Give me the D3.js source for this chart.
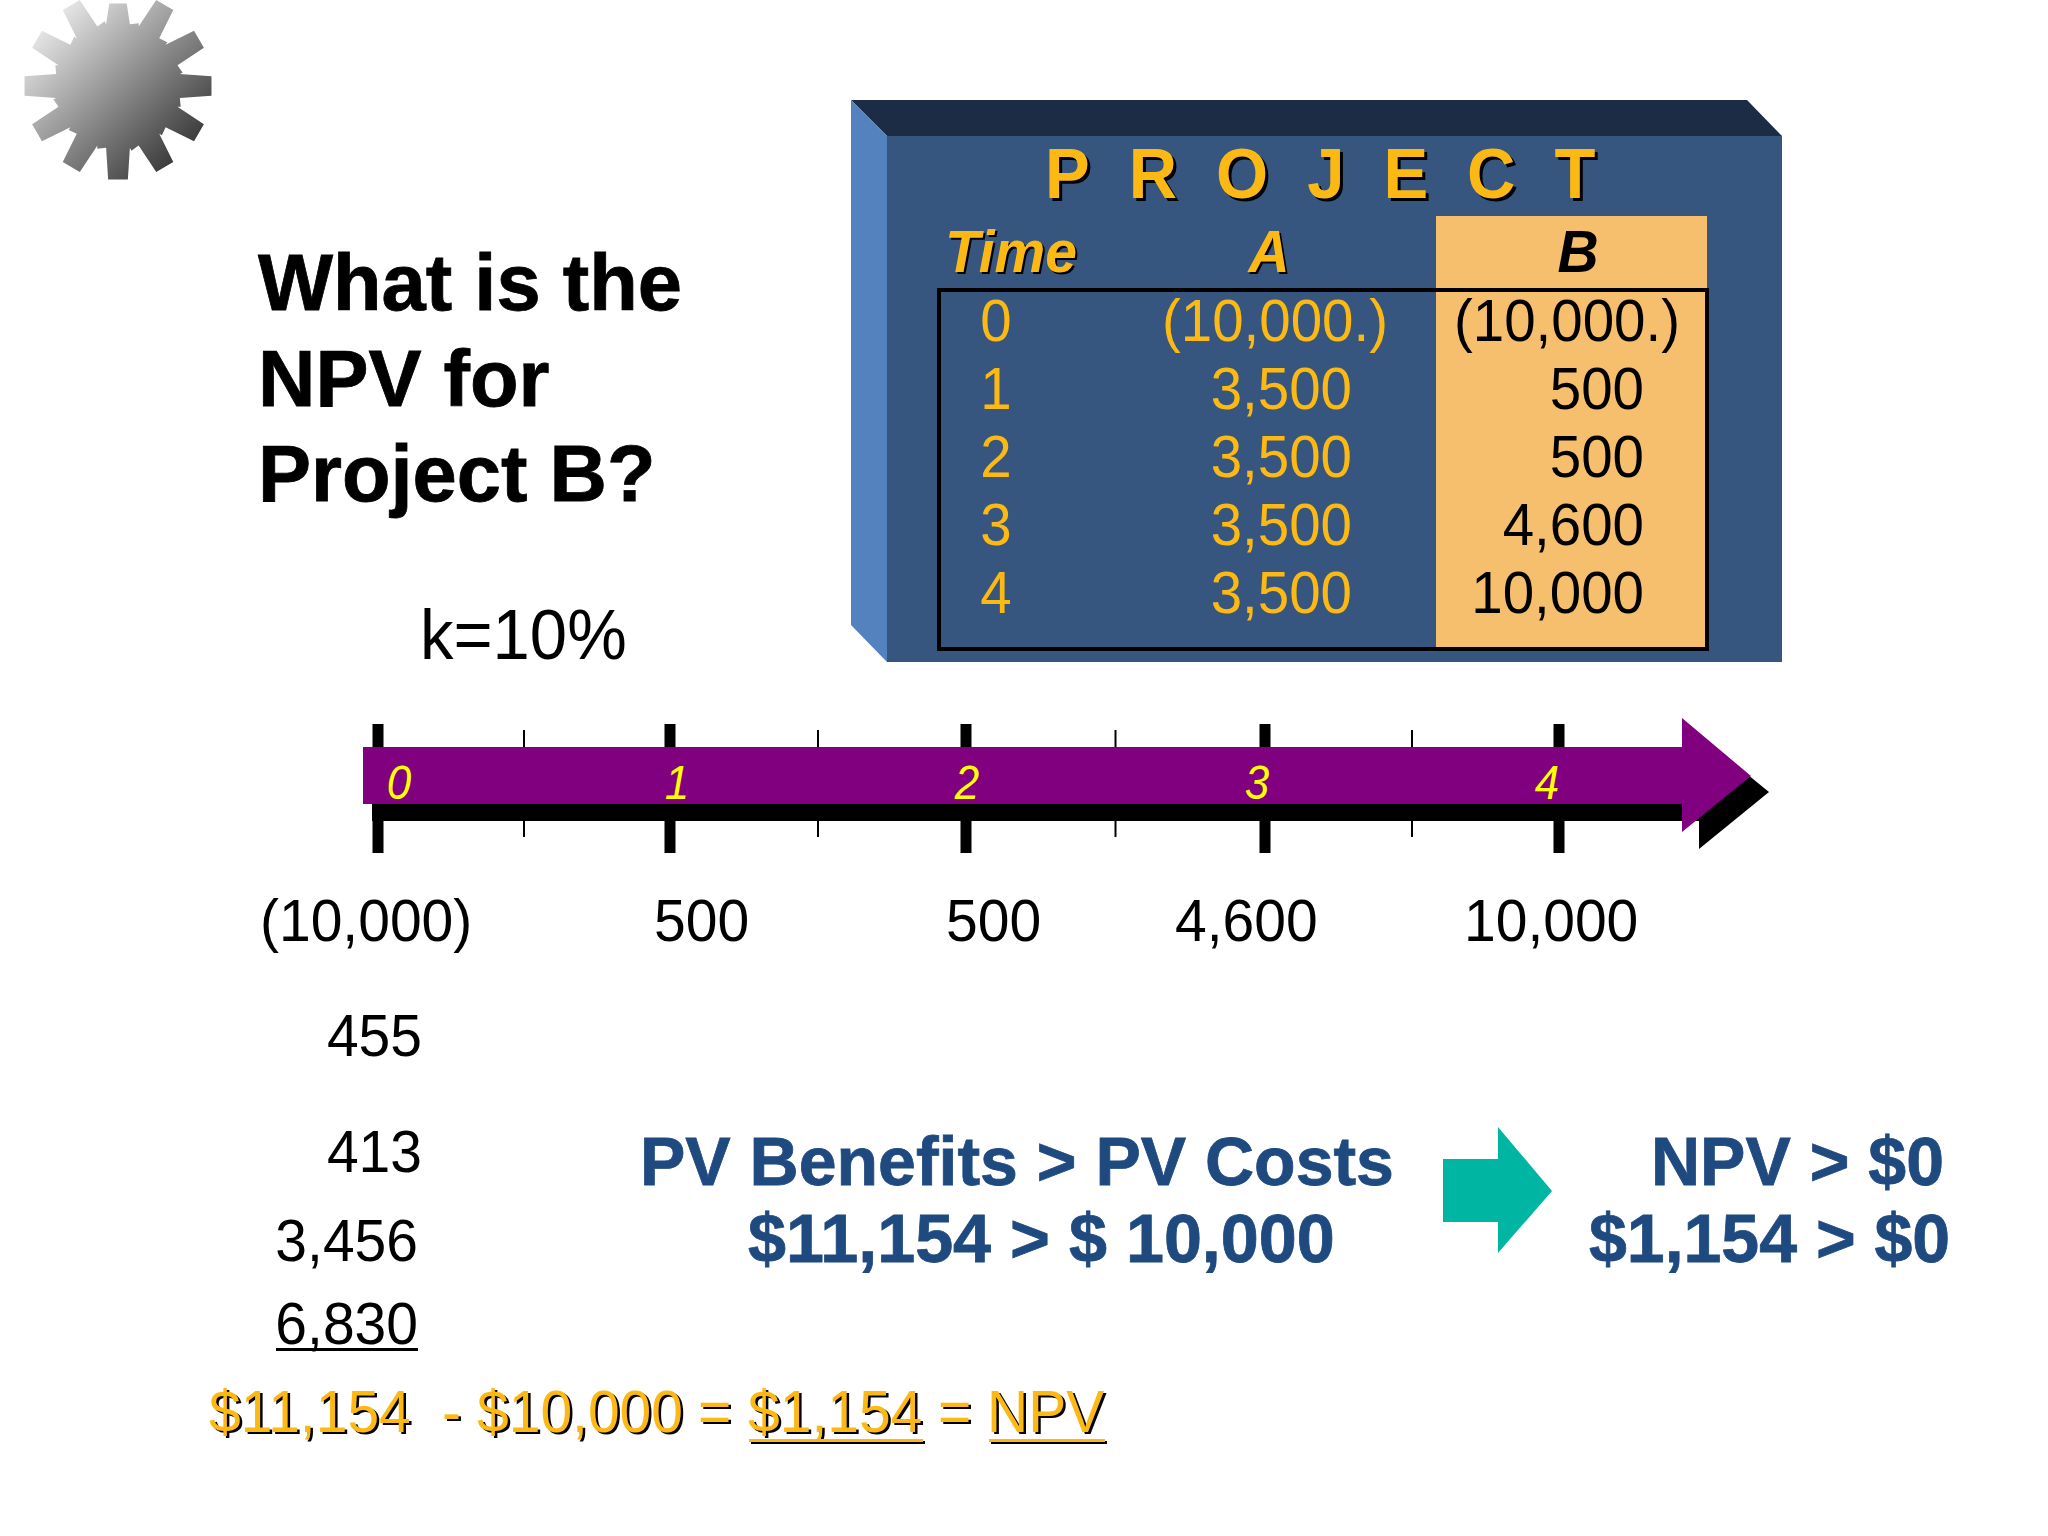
<!DOCTYPE html>
<html>
<head>
<meta charset="utf-8">
<title>NPV for Project B</title>
<script src="https://cdn.jsdelivr.net/npm/d3@7"></script>
<style>
  html, body { margin: 0; padding: 0; background: #fff; }
  svg { display: block; }
  text { font-family: "Liberation Sans", Arial, sans-serif; }
</style>
</head>
<body>
<svg id="slide" width="2048" height="1536"></svg>
<script>
const periods = [0, 1, 2, 3, 4]
const halfPeriods = [0.5, 1.5, 2.5, 3.5]
const projectA = [-10000, 3500, 3500, 3500, 3500]
const projectB = [-10000, 500, 500, 4600, 10000]
const pvPeriods = [1, 2, 3, 4]
const pvValues = [455, 413, 3456, 6830]
const pvTotal = 11154
const cost = 10000
const npv = 1154
const titleLines = ['What is the', 'NPV for', 'Project B?']
const compareLeft = ['PV Benefits > PV Costs', '$11,154 > $ 10,000']
const compareRight = ['NPV > $0', '$1,154 > $0']

const GOLD = '#fdb913'
const NAVY = '#1f4a7f'
const STRETCH = 1.05
const svg = d3.select('#slide')
const money = d3.format(',')
const line = d3.line()

const addText = (parent, str, x, y, size, attrs = {}) => {
  const { stretch, ...rest } = attrs
  const t = parent.append('text')
    .attr('x', x)
    .attr('y', y)
    .attr('font-size', size)
    .text(str)
  Object.keys(rest).forEach(k => t.attr(k, rest[k]))
  // the slide is slightly taller than wide, so digits get a small vertical stretch
  if (stretch) t.attr('transform', `translate(0,${y * (1 - stretch)}) scale(1,${stretch})`)
  return t
}

// gold text with the hard black drop shadow used in the slide
const addShadowed = (str, x, y, size, attrs = {}, off = 3) => {
  addText(svg, str, x + off, y + off, size, { ...attrs, fill: '#000' })
  return addText(svg, str, x, y, size, { fill: GOLD, ...attrs })
}

const polygon = (pts, fill) => svg.append('path')
  .attr('d', line(pts) + 'Z')
  .attr('fill', fill)

// gear
const grad = svg.append('defs').append('linearGradient')
  .attr('id', 'gearFill')
  .attr('x1', 0).attr('y1', 0).attr('x2', 1).attr('y2', 1)
grad.selectAll('stop')
  .data([[0.1, '#ececec'], [0.5, '#8e8e8e'], [0.9, '#303030']])
  .join('stop')
  .attr('offset', d => d[0])
  .attr('stop-color', d => d[1])

const gearPts = d3.range(12).flatMap(i => {
  const a = i * Math.PI / 6
  const tip = i === 0 ? 83 : 94
  return [[a - 0.19, 63], [a - 0.105, tip], [a + 0.105, tip], [a + 0.19, 63], [a + 0.32, 66]]
})
svg.append('path')
  .attr('transform', 'translate(118,86)')
  .attr('d', d3.lineRadial()(gearPts) + 'Z')
  .attr('fill', 'url(#gearFill)')

// question
const titleY = d3.scalePoint().domain(titleLines).range([310, 501])
titleLines.forEach(t => {
  addText(svg, t, 258, titleY(t), 79.5, { 'font-weight': 'bold', fill: '#000', stroke: '#000', 'stroke-width': 0.8 })
})
addText(svg, 'k=10%', 420, 659, 67, { fill: '#000', stretch: STRETCH })

// project table
polygon([[851, 100], [1747, 100], [1782, 136], [887, 136]], '#1d2c45')
polygon([[851, 100], [887, 136], [887, 662], [851, 625]], '#5482bf')
svg.append('rect')
  .attr('x', 887).attr('y', 136).attr('width', 895).attr('height', 526)
  .attr('fill', '#36557f')
svg.append('rect')
  .attr('x', 1436).attr('y', 216).attr('width', 271).attr('height', 431)
  .attr('fill', '#f5bf6e')
svg.append('rect')
  .attr('x', 939).attr('y', 290).attr('width', 768).attr('height', 359)
  .attr('fill', 'none').attr('stroke', '#000').attr('stroke-width', 4)

addShadowed('PROJECT', 1045, 198, 67, { 'font-weight': 'bold', 'letter-spacing': 39, stretch: STRETCH }, 3)

const head = { 'font-weight': 'bold', 'font-style': 'italic', stretch: STRETCH }
addShadowed('Time', 945, 272, 57, head, 2)
addShadowed('A', 1269, 272, 57, { ...head, 'text-anchor': 'middle' }, 2)
addText(svg, 'B', 1578, 272, 57, { ...head, 'text-anchor': 'middle', fill: '#000' })

const rowY = d3.scaleLinear().domain([0, 4]).range([341, 613])
const cell = v => v < 0 ? `(${money(-v)}.)` : money(v)
// negatives hang ".)" past the decimal-aligned right edge
const cellX = (v, right) => v < 0 ? right + 36 : right
periods.forEach(p => {
  addText(svg, p, 996, rowY(p), 56.5, { fill: GOLD, 'text-anchor': 'middle', stretch: STRETCH })
  addText(svg, cell(projectA[p]), cellX(projectA[p], 1352), rowY(p), 56.5, { fill: GOLD, 'text-anchor': 'end', stretch: STRETCH })
  addText(svg, cell(projectB[p]), cellX(projectB[p], 1644), rowY(p), 56.5, { fill: '#000', 'text-anchor': 'end', stretch: STRETCH })
})

// time line
const x = d3.scaleLinear().domain(periods).range([378, 670, 966, 1265, 1559])
const labelX = d3.scaleLinear().domain([0, 1, 4]).range([399, 677, 1547])

const drawTicks = (values, top, len, width) => {
  const g = svg.append('g')
    .attr('transform', `translate(0,${top})`)
    .call(d3.axisBottom(x).tickValues(values).tickSize(len).tickFormat('').offset(0))
  g.select('.domain').remove()
  g.selectAll('.tick line').attr('stroke', '#000').attr('stroke-width', width)
}
drawTicks(periods, 724, 129, 11)
drawTicks(halfPeriods, 730, 107, 2)

polygon([[372, 804], [1699, 804], [1699, 735], [1769, 792], [1699, 849], [1699, 821], [372, 821]], '#000')
polygon([[363, 747], [1682, 747], [1682, 718], [1751, 776], [1682, 832], [1682, 804], [363, 804]], '#800080')

periods.forEach(p => {
  addText(svg, p, labelX(p), 799, 44, { fill: '#ffff00', 'font-style': 'italic', 'text-anchor': 'middle', stretch: 1.1 })
})

// cash flows under the line
const flowX = d3.scaleLinear().domain(periods).range([260, 654, 946, 1175, 1464])
const flowLabel = v => v < 0 ? `(${money(-v)})` : money(v)
periods.forEach(p => {
  addText(svg, flowLabel(projectB[p]), flowX(p), 941, 57, { fill: '#000', stretch: STRETCH })
})

// present values
const pvY = d3.scaleLinear().domain(pvPeriods).range([1056, 1172, 1261, 1344])
const pvRight = d3.scaleLinear().domain(pvPeriods).range([422, 422, 418, 418])
pvPeriods.forEach((p, i) => {
  addText(svg, money(pvValues[i]), pvRight(p), pvY(p), 57, { fill: '#000', 'text-anchor': 'end', stretch: STRETCH })
})
svg.append('rect')
  .attr('x', 276).attr('y', 1348).attr('width', 142).attr('height', 3)
  .attr('fill', '#000')

// result line
const resultParts = [
  ['$' + money(pvTotal), 209],
  ['-', 442],
  ['$' + money(cost), 477],
  ['=', 698],
  ['$' + money(npv), 748],
  ['=', 938],
  ['NPV', 987]
]
resultParts.forEach(d => addShadowed(d[0], d[1], 1432, 57, { stretch: STRETCH }, 2.5))
const rules = [[749, 174], [989, 116]]
rules.forEach(d => {
  svg.append('rect').attr('x', d[0] + 2).attr('y', 1441).attr('width', d[1]).attr('height', 3).attr('fill', '#000')
  svg.append('rect').attr('x', d[0]).attr('y', 1439).attr('width', d[1]).attr('height', 3).attr('fill', GOLD)
})

// comparison
const bold = { 'font-weight': 'bold', fill: NAVY, stroke: NAVY, 'stroke-width': 0.8 }
addText(svg, compareLeft[0], 640, 1185, 68, bold)
addText(svg, compareLeft[1], 748, 1262, 68.3, bold)
addText(svg, compareRight[0], 1651, 1185, 68, bold)
addText(svg, compareRight[1], 1589, 1262, 68, bold)
polygon([[1443, 1159], [1498, 1159], [1498, 1127], [1552, 1191], [1498, 1253], [1498, 1222], [1443, 1222]], '#00b5a2')
</script>
</body>
</html>
